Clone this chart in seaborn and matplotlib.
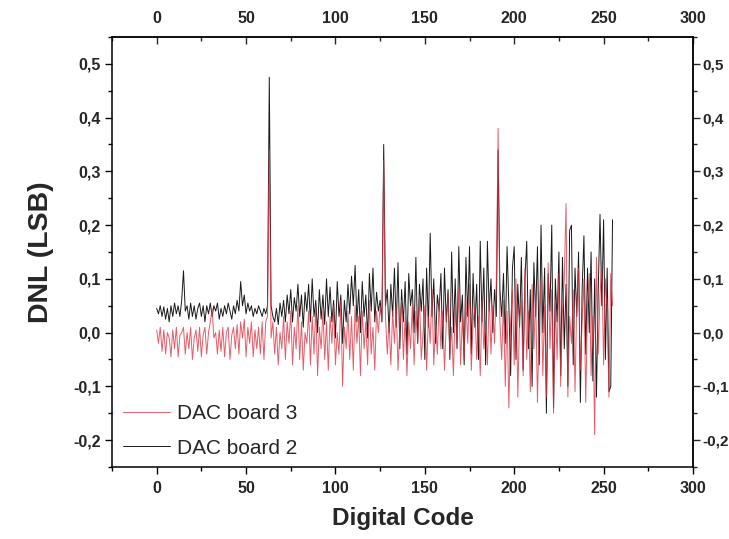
import numpy as np
import pandas as pd
import matplotlib
matplotlib.use('Agg')
import matplotlib.pyplot as plt
from matplotlib.ticker import MultipleLocator, FuncFormatter, FixedLocator
import seaborn as sns

# DNL per digital code
codes = list(range(256))

dnl_board2 = [
    0.045, 0.035, 0.05, 0.03, 0.048, 0.025, 0.045, 0.02, 0.05, 0.03, 0.055, 0.035, 0.05, 0.03, 0.06, 0.115,
    0.04, 0.05, 0.025, 0.055, 0.03, 0.05, 0.025, 0.045, 0.055, 0.03, 0.05, 0.02, 0.05, 0.035, 0.055, 0.03,
    0.05, 0.04, 0.055, 0.025, 0.045, 0.03, 0.05, 0.035, 0.055, 0.04, 0.025, 0.05, 0.035, 0.06, 0.04, 0.095,
    0.05, 0.07, 0.035, 0.055, 0.04, 0.05, 0.03, 0.045, 0.035, 0.05, 0.04, 0.03, 0.045, 0.035, 0.05, 0.475,
    0.05, 0.03, 0.02, 0.045, 0.015, 0.055, 0.03, 0.06, 0.02, 0.07, 0.035, 0.08, 0.02, 0.065, 0.04, 0.09,
    0.03, 0.07, 0.01, 0.075, 0.04, 0.09, 0.02, 0.1, 0.03, 0.06, 0.0, 0.08, 0.025, 0.07, 0.015, 0.1,
    0.03, 0.085, 0.02, 0.06, -0.01, 0.095, 0.03, 0.07, -0.02, 0.06, 0.02, 0.09, 0.035, 0.105, 0.05, 0.125,
    0.02, 0.08, 0.0, 0.095, 0.03, 0.07, -0.01, 0.11, 0.04, 0.12, 0.02, 0.075, 0.04, 0.06, 0.02, 0.35,
    0.05, 0.08, 0.0, 0.09, 0.03, 0.12, 0.01, 0.13, -0.03, 0.08, 0.02, 0.095, -0.04, 0.11, 0.05, 0.08,
    0.0, 0.14, -0.02, 0.09, 0.04, 0.1, -0.05, 0.12, 0.01, 0.185, 0.03, 0.1, -0.02, 0.07, 0.04, 0.11,
    -0.03, 0.12, 0.02, 0.08, -0.05, 0.15, 0.0, 0.1, -0.03, 0.16, 0.02, 0.07, -0.06, 0.14, 0.03, 0.16,
    -0.04, 0.11, 0.01, 0.09, -0.05, 0.17, 0.02, 0.12, -0.06, 0.17, 0.04, 0.1, 0.0, 0.08, 0.03, 0.34,
    0.08, 0.03, 0.11, -0.02, 0.16, 0.05, -0.08, 0.12, 0.16, -0.05, 0.09, 0.01, 0.14, -0.07, 0.1, 0.17,
    -0.03, 0.08, -0.1, 0.13, 0.03, 0.16, -0.06, 0.2, 0.0, 0.12, -0.15, 0.11, 0.04, 0.2, -0.14, 0.1,
    0.02, 0.15, -0.08, 0.14, -0.03, 0.09, -0.1, 0.19, 0.2, -0.06, 0.12, 0.03, 0.15, -0.13, 0.08, 0.18,
    -0.04, 0.12, 0.0, 0.15, -0.09, 0.1, -0.12, 0.08, 0.22, 0.05, 0.21, -0.05, 0.12, -0.11, -0.1, 0.21,
]

dnl_board3 = [
    0.005, -0.02, 0.01, -0.035, 0.005, -0.04, 0.0, -0.01, -0.045, 0.005, -0.03, 0.01, -0.045, -0.005, 0.0, 0.01,
    -0.04, 0.0, -0.03, 0.01, -0.05, -0.01, 0.005, -0.035, 0.01, -0.045, -0.005, 0.01, -0.04, 0.0, 0.02, 0.045,
    -0.01, 0.0, -0.04, 0.005, -0.035, 0.01, -0.045, 0.0, 0.01, -0.05, -0.005, 0.01, -0.03, 0.015, -0.04, 0.02,
    -0.01, 0.025, -0.045, 0.01, -0.02, 0.02, -0.045, 0.005, -0.03, 0.01, -0.04, 0.02, -0.05, 0.02, 0.03, 0.34,
    -0.01, 0.02, -0.04, 0.01, -0.06, 0.0, -0.03, 0.03, -0.05, 0.02, -0.02, 0.04, -0.06, 0.01, -0.03, 0.05,
    -0.05, 0.02, -0.07, 0.0, -0.02, 0.04, -0.06, 0.03, -0.04, 0.05, -0.08, 0.01, -0.03, 0.04, -0.05, 0.02,
    -0.07, 0.03, -0.02, 0.05, -0.06, 0.0, -0.04, 0.06, -0.1, 0.01, -0.03, 0.04, -0.05, 0.03, -0.07, 0.05,
    -0.02, 0.03, -0.08, 0.04, -0.03, 0.02, -0.06, 0.06, -0.04, 0.01, -0.07, 0.04, 0.0, 0.05, 0.02, 0.32,
    0.03, -0.04, 0.02, -0.06, 0.04, -0.02, 0.05, -0.07, 0.01, 0.06, -0.05, 0.03, -0.08, 0.02, -0.03, 0.05,
    -0.06, 0.04, -0.02, 0.07, -0.05, 0.0, 0.05, -0.07, 0.03, -0.02, 0.08, -0.06, 0.02, -0.04, 0.06, -0.03,
    0.04, -0.07, 0.02, 0.07, -0.04, 0.01, -0.08, 0.05, -0.02, 0.08, -0.06, 0.03, -0.05, 0.06, -0.02, 0.09,
    -0.07, 0.02, 0.05, -0.05, 0.03, -0.08, 0.06, -0.03, 0.02, -0.06, 0.07, -0.04, 0.05, -0.02, 0.1, 0.38,
    0.02, -0.05, 0.06, -0.1, 0.04, -0.14, 0.02, 0.08, -0.06, 0.1, -0.12, 0.03, 0.06, -0.08, 0.12, -0.05,
    0.04, -0.11, 0.09, -0.03, 0.07, -0.13, 0.02, 0.1, -0.08, 0.05, -0.12, 0.13, -0.03, 0.08, -0.15, 0.06,
    -0.05, 0.11, -0.1, 0.04, 0.1, 0.24, -0.12, 0.03, -0.02, 0.08, -0.11, 0.06, 0.12, -0.07, 0.02, 0.1,
    -0.13, 0.05, 0.11, -0.08, 0.03, -0.19, 0.14, -0.04, 0.07, 0.13, -0.06, 0.1, 0.04, -0.12, 0.11, 0.05,
]

label_board2 = 'DAC board 2'
label_board3 = 'DAC board 3'

x_ticks = [0, 50, 100, 150, 200, 250, 300]
x_minor = [-25, 25, 75, 125, 175, 225, 275]
y_ticks = [-0.2, -0.1, 0.0, 0.1, 0.2, 0.3, 0.4, 0.5]
y_minor = [-0.25, -0.15, -0.05, 0.05, 0.15, 0.25, 0.35, 0.45, 0.55]

df = pd.DataFrame({
    'code': codes + codes,
    'dnl': dnl_board2 + dnl_board3,
    'board': [label_board2] * 256 + [label_board3] * 256,
})

sns.set_theme(style='ticks')
plt.rcParams['font.family'] = ['Liberation Sans', 'DejaVu Sans']

fig = plt.figure(figsize=(7.29, 5.39), dpi=100)
ax = fig.add_axes([0.1536, 0.1336, 0.797, 0.7978])

sns.lineplot(data=df, x='code', y='dnl', hue='board',
             hue_order=[label_board2, label_board3],
             palette={label_board2: '#1a1a1a', label_board3: '#e03444'},
             linewidth=0.7, ax=ax, legend=False, estimator=None, sort=False)
ax.lines[1].set_alpha(0.8)

ax.set_xlim(-25, 300)
ax.set_ylim(-0.25, 0.55)

comma = FuncFormatter(lambda v, p: ('%.1f' % v).replace('.', ','))
intfmt = FuncFormatter(lambda v, p: '%d' % v)

ax.xaxis.set_major_locator(FixedLocator(x_ticks))
ax.xaxis.set_minor_locator(FixedLocator(x_minor))
ax.yaxis.set_major_locator(FixedLocator(y_ticks))
ax.yaxis.set_minor_locator(FixedLocator(y_minor))
ax.yaxis.set_major_formatter(comma)
ax.xaxis.set_major_formatter(intfmt)

for s in ax.spines.values():
    s.set_linewidth(1.1)
    s.set_color('black')

ax.tick_params(axis='x', which='major', direction='out', length=5, width=1.0,
               color='black', labelsize=11.5, pad=5)
ax.tick_params(axis='y', which='major', direction='out', length=5, width=1.0,
               color='black', labelsize=11.5, pad=3)
ax.tick_params(which='minor', direction='out', length=3, width=1.0, color='black')
for t in ax.get_xticklabels() + ax.get_yticklabels():
    t.set_fontweight('bold')

# top axis (ticks inward) and right axis (ticks outward)
top = ax.secondary_xaxis('top')
top.xaxis.set_major_locator(FixedLocator(x_ticks))
top.xaxis.set_minor_locator(FixedLocator(x_minor))
top.xaxis.set_major_formatter(intfmt)
top.tick_params(which='major', direction='in', length=5, width=1.0, labelsize=11.5, pad=8)
top.tick_params(which='minor', direction='in', length=3, width=1.0)
top.spines['top'].set_linewidth(1.1)
for t in top.get_xticklabels():
    t.set_fontweight('bold')

right = ax.secondary_yaxis('right')
right.yaxis.set_major_locator(FixedLocator(y_ticks))
right.yaxis.set_minor_locator(FixedLocator(y_minor))
right.yaxis.set_major_formatter(comma)
right.tick_params(which='major', direction='out', length=5, width=1.0, labelsize=11, pad=2)
right.tick_params(which='minor', direction='out', length=3, width=1.0)
right.spines['right'].set_linewidth(1.1)
for t in right.get_yticklabels():
    t.set_fontweight('bold')

ax.set_xlabel('Digital Code', fontsize=17.5, fontweight='bold', labelpad=8)
ax.set_ylabel('DNL (LSB)', fontsize=20.5, fontweight='bold', labelpad=14)

h2, h3 = ax.lines[0], ax.lines[1]
leg = ax.legend([h3, h2], [label_board3, label_board2], loc='lower left',
                bbox_to_anchor=(0.019, 0.022), frameon=False, fontsize=15,
                handlelength=2.25, handletextpad=0.35, labelspacing=0.75,
                borderpad=0, borderaxespad=0)

fig.savefig('out.png', dpi=100)
